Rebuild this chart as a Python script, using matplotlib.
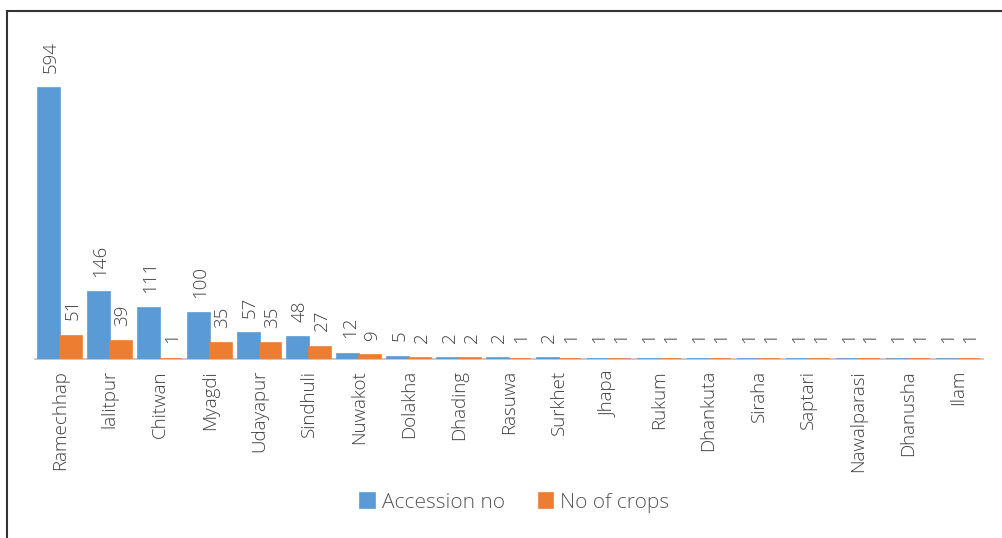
import matplotlib.pyplot as plt
from matplotlib.lines import Line2D
import numpy as np

districts = ["Ramechhap", "lalitpur", "Chitwan", "Myagdi", "Udayapur", "Sindhuli",
             "Nuwakot", "Dolakha", "Dhading", "Rasuwa", "Surkhet", "Jhapa", "Rukum",
             "Dhankuta", "Siraha", "Saptari", "Nawalparasi", "Dhanusha", "Ilam"]
accession_no = [594, 146, 111, 100, 57, 48, 12, 5, 2, 2, 2, 1, 1, 1, 1, 1, 1, 1, 1]
no_of_crops = [51, 39, 1, 35, 35, 27, 9, 2, 2, 1, 1, 1, 1, 1, 1, 1, 1, 1, 1]

plt.rcParams['font.family'] = ['Open Sans', 'DejaVu Sans']
text_color = '#404040'
blue = '#5B9BD5'
orange = '#ED7D31'

fig = plt.figure(figsize=(10.02, 5.38), dpi=100)
ax = fig.add_axes([35 / 1002, 1 - 359 / 538, 948 / 1002, 319 / 538])

x = np.arange(len(districts))
w = 0.44
b1 = ax.bar(x - w / 2, accession_no, w, color=blue, edgecolor=blue, linewidth=1.2,
            label="Accession no", zorder=3)
b2 = ax.bar(x + w / 2, no_of_crops, w, color=orange, edgecolor=orange, linewidth=1.2,
            label="No of crops", zorder=3)

for bars, vals in ((b1, accession_no), (b2, no_of_crops)):
    for bar, v in zip(bars, vals):
        ax.annotate(str(v), (bar.get_x() + bar.get_width() / 2, v),
                    xytext=(1, 11), textcoords='offset points',
                    rotation=90, ha='center', va='bottom',
                    fontsize=13.5, fontweight='light', color=text_color)

ax.set_xlim(-0.5, len(districts) - 0.5)
ax.set_ylim(0, 700)
ax.set_yticks([])
ax.set_xticks(x)
ax.set_xticklabels(districts, rotation=90, fontsize=13.5, fontweight='light',
                   color=text_color)
ax.tick_params(axis='x', length=0, pad=8)
for s in ('top', 'right', 'left'):
    ax.spines[s].set_visible(False)
ax.spines['bottom'].set_color('#BFBFBF')
ax.spines['bottom'].set_linewidth(1.2)
ax.spines['bottom'].set_zorder(1)

fig.legend(handles=[b1, b2], loc='center', bbox_to_anchor=(515 / 1002, 1 - 503 / 538),
           ncol=2, frameon=False, fontsize=15, labelcolor='#595959',
           prop={'weight': 'light', 'size': 15},
           handlelength=0.7, handleheight=0.7, handletextpad=0.35, columnspacing=1.6)

# outer frame (left and top edges)
fig.add_artist(Line2D([7 / 1002, 7 / 1002], [0, 1 - 11 / 538], color='#333333', lw=1.5))
fig.add_artist(Line2D([7 / 1002, 1], [1 - 11 / 538, 1 - 11 / 538], color='#333333', lw=1.5))

fig.savefig("out.png", dpi=100)
